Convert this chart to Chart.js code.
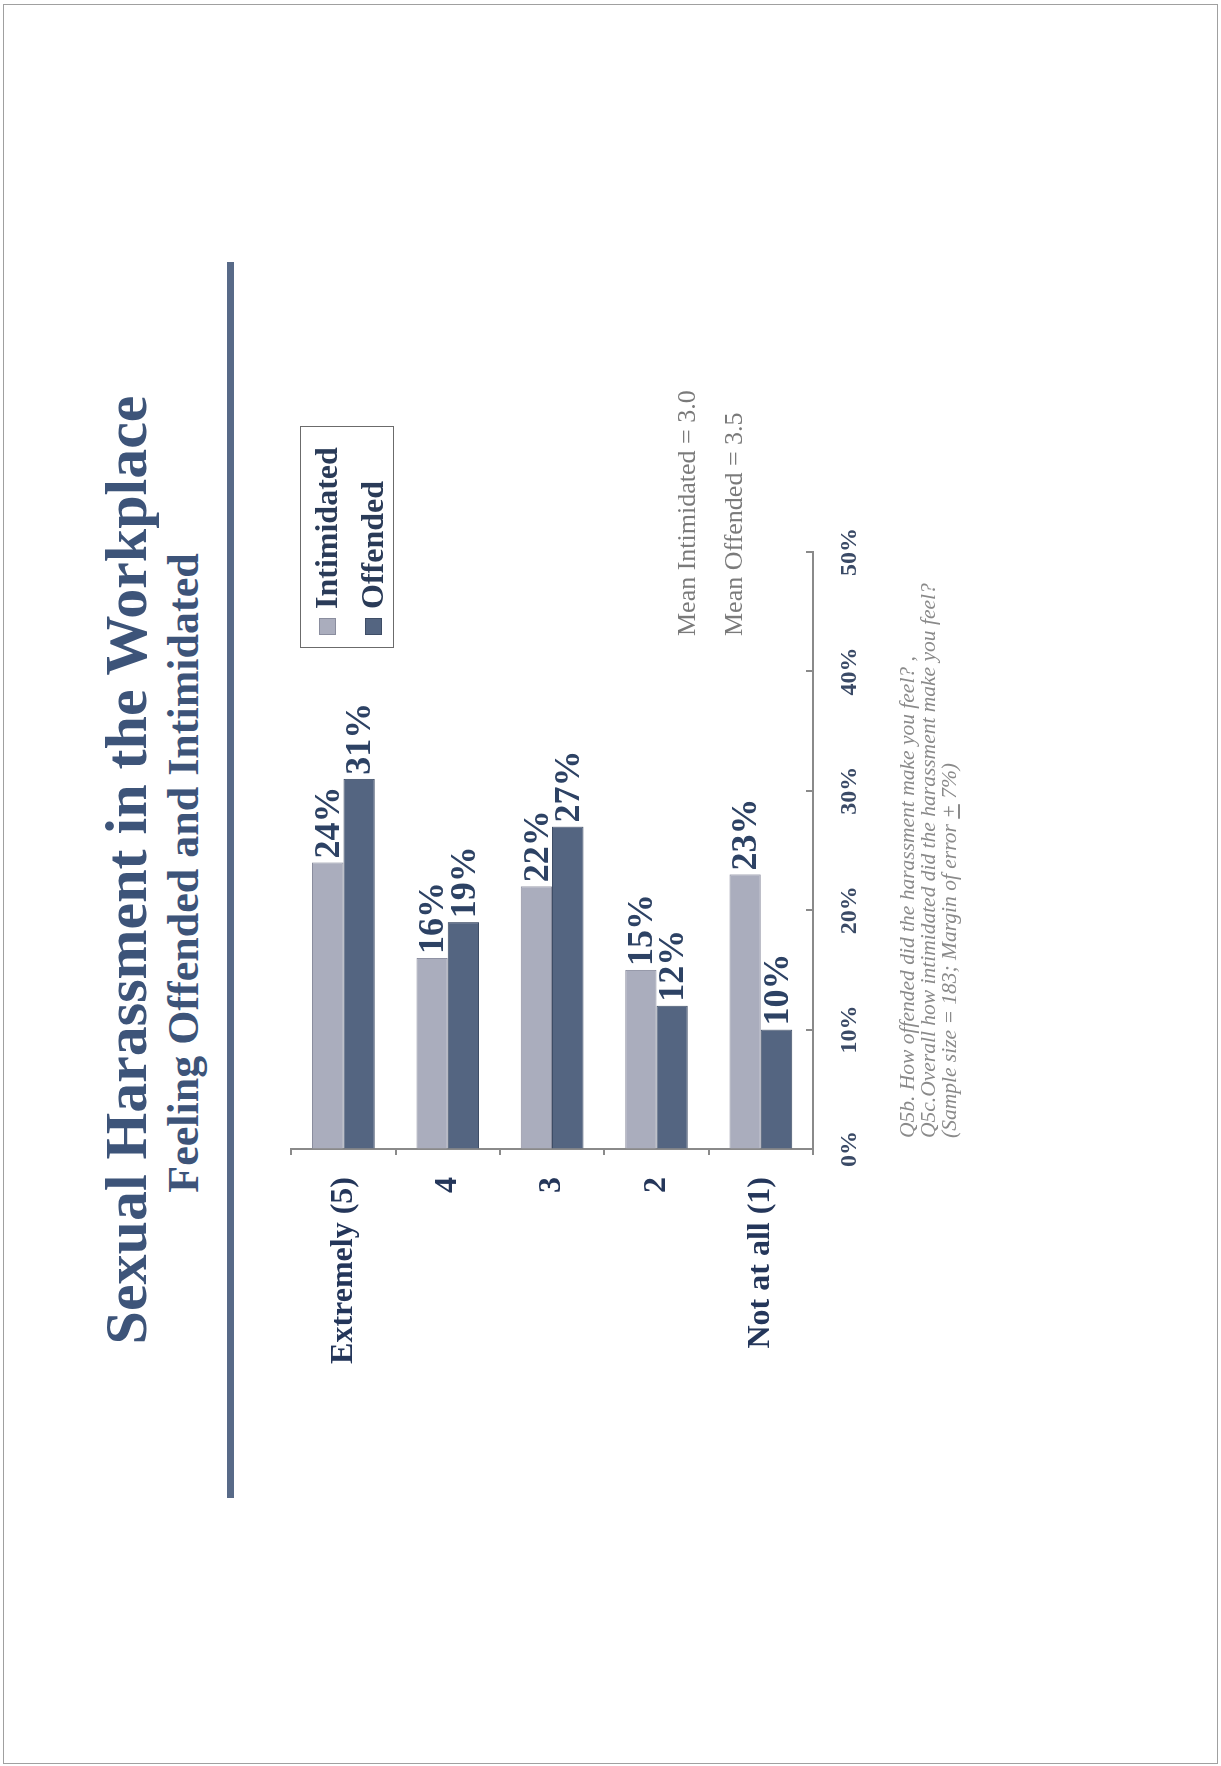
<!DOCTYPE html>
<html>
<head>
<meta charset="utf-8">
<script src="https://cdn.jsdelivr.net/npm/chart.js@4.4.1/dist/chart.umd.min.js"></script>
<style>
  html, body { margin: 0; padding: 0; background: #fff; overflow: hidden; }
  body { width: 1221px; height: 1766px; position: relative; }
  .frame { position: absolute; left: 3px; top: 4px; width: 1213px; height: 1758px; border: 1px solid #a0a0a0; }
  /* slide is laid out upright (1766 x 1221) then turned a quarter left */
  .slide { position: absolute; left: 0; top: 0; width: 1766px; height: 1221px;
           transform-origin: 0 0; transform: translate(0, 1766px) rotate(-90deg);
           font-family: "Liberation Serif", "Times New Roman", serif; }
  .slide div { position: absolute; white-space: nowrap; }
  .title { left: 396px; width: 1000px; top: 96px; text-align: center; font: bold 60px/60px "Liberation Serif", serif; color: #3d5479; }
  .subtitle { left: 393px; width: 1000px; top: 162px; text-align: center; font: bold 44px/44px "Liberation Serif", serif; color: #3d5479; }
  .rule { left: 268px; top: 227px; width: 1236px; height: 7px; background: #586a88; }
  #chartBox { left: 300px; top: 250px; width: 960px; height: 660px; }
  .legend { left: 1118px; top: 300px; width: 220px; height: 92px; border: 1px solid #6b6b6b; }
  .legend .item { position: absolute; left: 12px; font: bold 32px/32px "Liberation Serif", serif; color: #2a3b58; }
  .legend .sw { display: inline-block; width: 17px; height: 17px; margin-right: 9px; vertical-align: 1px; box-sizing: border-box; }
  .mean { font: 26px/26px "Liberation Serif", serif; color: #7a7a7a; left: 1130px; }
  .note { font: italic 21.5px/21.5px "Liberation Serif", serif; color: #8a8a8a; left: 628px; }
</style>
</head>
<body>
<div class="frame"></div>
<div class="slide">
  <div class="title">Sexual Harassment in the Workplace</div>
  <div class="subtitle">Feeling Offended and Intimidated</div>
  <div class="rule"></div>
  <div id="chartBox"><canvas id="chart" width="960" height="660"></canvas></div>
  <div class="legend" id="legend"></div>
  <div class="mean" style="top:674px">Mean Intimidated = 3.0</div>
  <div class="mean" style="top:721px">Mean Offended = 3.5</div>
  <div class="note" style="top:897px">Q5b. How offended did the harassment make you feel? ,</div>
  <div class="note" style="top:918px">Q5c.Overall how intimidated did the harassment make you feel?</div>
  <div class="note" style="top:939px">(Sample size = 183; Margin of error <u>+</u> 7%)</div>
</div>

<script>
// data
const categories = ['Extremely (5)', '4', '3', '2', 'Not at all (1)'];
const intimidated = [24, 16, 22, 15, 23];
const offended = [31, 19, 27, 12, 10];
const valueTicks = [0, 10, 20, 30, 40, 50];
const seriesNames = ['Intimidated', 'Offended'];
const seriesFill = ['#aaadbd', '#546581'];
const seriesEdge = ['#8a8d9e', '#3e4d66'];

const serif = '"Liberation Serif", "Times New Roman", serif';

// percent labels at the end of each bar
const barLabels = {
  id: 'barLabels',
  afterDatasetsDraw(chart) {
    const ctx = chart.ctx;
    ctx.save();
    ctx.font = 'bold 36px ' + serif;
    ctx.fillStyle = '#2d4264';
    ctx.textBaseline = 'middle';
    chart.data.datasets.forEach((ds, i) => {
      chart.getDatasetMeta(i).data.forEach((bar, j) => {
        ctx.fillText(ds.data[j] + '%', bar.x + 4, bar.y + 2);
      });
    });
    ctx.restore();
  }
};

// value axis ticks point into the plot
const innerTicks = {
  id: 'innerTicks',
  afterDraw(chart) {
    const ctx = chart.ctx, sx = chart.scales.x, b = chart.chartArea.bottom;
    ctx.save();
    ctx.strokeStyle = '#8a8a8a';
    ctx.lineWidth = 2;
    valueTicks.forEach(v => {
      const px = Math.round(sx.getPixelForValue(v));
      ctx.beginPath();
      ctx.moveTo(px, b - 7);
      ctx.lineTo(px, b);
      ctx.stroke();
    });
    ctx.restore();
  }
};

new Chart(document.getElementById('chart').getContext('2d'), {
  type: 'bar',
  data: {
    labels: categories,
    datasets: [
      { label: seriesNames[0], data: intimidated, backgroundColor: seriesFill[0], borderColor: seriesEdge[0], borderWidth: 1 },
      { label: seriesNames[1], data: offended, backgroundColor: seriesFill[1], borderColor: seriesEdge[1], borderWidth: 1 }
    ]
  },
  options: {
    indexAxis: 'y',
    responsive: false,
    animation: false,
    devicePixelRatio: 1,
    categoryPercentage: 0.6,
    barPercentage: 1.0,
    layout: { padding: { top: 34, right: 40, bottom: 37, left: 0 } },
    plugins: { legend: { display: false }, tooltip: { enabled: false } },
    scales: {
      x: {
        min: 0, max: 50,
        afterBuildTicks: s => { s.ticks = valueTicks.map(v => ({ value: v })); },
        afterFit: s => { s.height = 60; },
        grid: { drawOnChartArea: false, drawTicks: false },
        border: { color: '#8a8a8a', width: 2 },
        ticks: { padding: 22, color: '#3a4a66', font: { family: serif, size: 24, weight: 'bold' }, callback: v => v + '%' }
      },
      y: {
        afterFit: s => { s.width = 317; },
        grid: { drawOnChartArea: false, tickLength: 6, color: '#8a8a8a', lineWidth: 2 },
        border: { color: '#8a8a8a', width: 2 },
        ticks: { padding: 22, color: '#24365a', font: { family: serif, size: 32, weight: 'bold' } }
      }
    }
  },
  plugins: [barLabels, innerTicks]
});

// legend built from the series
const lg = document.getElementById('legend');
seriesNames.forEach((name, i) => {
  const it = document.createElement('div');
  it.className = 'item';
  it.style.top = (9 + i * 46) + 'px';
  it.innerHTML = '<span class="sw" style="background:' + seriesFill[i] + ';border:1px solid ' + seriesEdge[i] + '"></span>' + name;
  lg.appendChild(it);
});
</script>
</body>
</html>
